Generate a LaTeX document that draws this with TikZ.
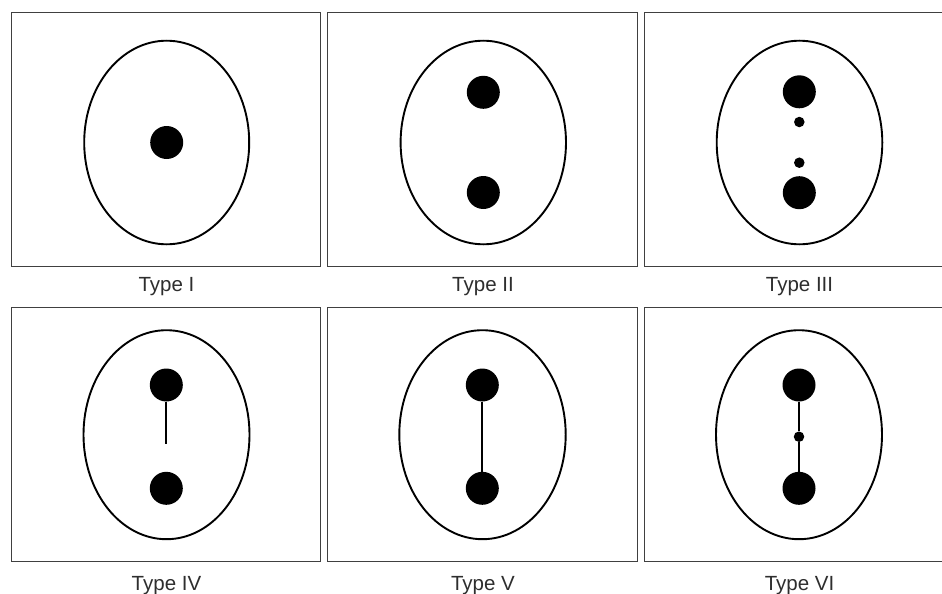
\documentclass[tikz,border=0pt]{standalone}
\usepackage{fontspec}
\setmainfont{Liberation Sans}
\begin{document}
\begin{tikzpicture}[x=1pt,y=-1pt,
  panelbox/.style={draw=black!75,line width=0.9pt},
  cell/.style={draw=black,line width=1.9pt},
  bigdot/.style={circle,fill=black,inner sep=0pt,minimum size=33pt},
  smalldot/.style={circle,fill=black,inner sep=0pt,minimum size=10.5pt},
  link/.style={draw=black,line width=1.9pt},
  caption/.style={anchor=base,font=\fontsize{20.5pt}{24pt}\selectfont,text=black!82,inner sep=0pt}]
\useasboundingbox (0,0) rectangle (942,594);
\fill[white] (0,0) rectangle (942,594);
\begin{scope}
\clip (0,0) rectangle (942,594);
% boxes
\draw[panelbox] (11,12.3) rectangle (320.7,266.7);
\draw[panelbox] (327.7,12.3) rectangle (637.3,266.7);
\draw[panelbox] (644.3,12.3) rectangle (954,266.7);
\draw[panelbox] (11,307.3) rectangle (320.7,561.7);
\draw[panelbox] (327.7,307.3) rectangle (637.3,561.7);
\draw[panelbox] (644.3,307.3) rectangle (954,561.7);
% ellipses
\draw[cell] (166.7,142.5) ellipse [x radius=82.5pt, y radius=101.8pt];
\draw[cell] (483.3,142.5) ellipse [x radius=82.7pt, y radius=101.8pt];
\draw[cell] (799.5,142.5) ellipse [x radius=82.8pt, y radius=101.8pt];
\draw[cell] (166.5,434.7) ellipse [x radius=83pt, y radius=104.5pt];
\draw[cell] (482.5,434.7) ellipse [x radius=83.2pt, y radius=104.5pt];
\draw[cell] (799,434.7) ellipse [x radius=83pt, y radius=104.5pt];
\end{scope}
% Type I
\node[bigdot] (i1) at (166.7,142.5) {};
% Type II
\node[bigdot] (ii1) at (483.3,92.3) {};
\node[bigdot] (ii2) at (483.3,192.5) {};
% Type III
\node[bigdot] (iii1) at (799.3,91.8) {};
\node[smalldot] (iii2) at (799.3,122) {};
\node[smalldot] (iii3) at (799.3,162.7) {};
\node[bigdot] (iii4) at (799.3,192.7) {};
% Type IV
\node[bigdot] (iv1) at (166.3,385) {};
\node[bigdot] (iv2) at (166.3,488.3) {};
\coordinate (ivend) at (166.3,444);
\draw[link] (iv1) -- (ivend);
% Type V
\node[bigdot] (v1) at (482.3,385) {};
\node[bigdot] (v2) at (482.3,488.3) {};
\draw[link] (v1) -- (v2);
% Type VI
\node[bigdot] (vi1) at (799,385) {};
\node[smalldot] (vi2) at (799,436.7) {};
\node[bigdot] (vi3) at (799,488.3) {};
\draw[link] (vi1) -- (vi2) -- (vi3);
% captions
\node[caption] (c1) at (166.5,291.7) {Type I};
\node[caption] (c2) at (483,291.7) {Type II};
\node[caption] (c3) at (799.5,291.7) {Type III};
\node[caption] (c4) at (166.5,590) {Type IV};
\node[caption] (c5) at (483,590) {Type V};
\node[caption] (c6) at (799.5,590) {Type VI};
\end{tikzpicture}
\end{document}
